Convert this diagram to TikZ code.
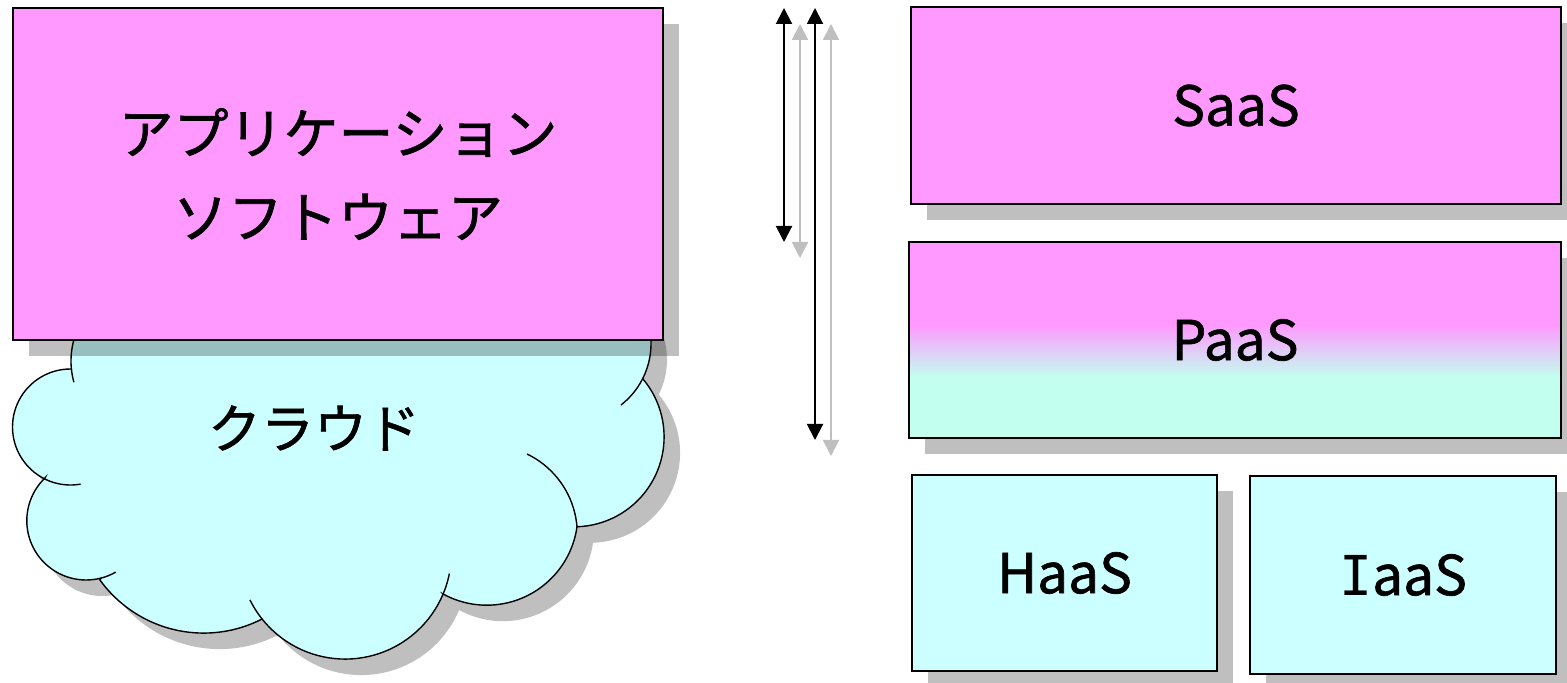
\documentclass[tikz,border=0pt]{standalone}
\usepackage{fontspec}
\setmainfont{Noto Sans CJK JP}[FakeBold=1.2]
\newfontfamily\serifI{DejaVu Sans Mono}
\usetikzlibrary{shadows,arrows.meta}
\definecolor{pinkfill}{HTML}{FF99FF}
\definecolor{cyanfill}{HTML}{CCFFFF}
\definecolor{mintfill}{HTML}{C2FFEE}
\definecolor{shadowgray}{HTML}{BFBFBF}
\pgfdeclareverticalshading{paasshade}{100bp}{color(0bp)=(mintfill); color(40.5bp)=(mintfill); color(54bp)=(pinkfill); color(100bp)=(pinkfill)}
\newcommand\lobe[5]{-- plot[domain=#4:#5,samples=40,variable=\t]({#1+#3*cos(\t)},{#2+#3*sin(\t)})}
\newcommand\innerarc[5]{plot[domain=#4:#5,samples=20,variable=\t]({#1+#3*cos(\t)},{#2+#3*sin(\t)})}
\def\cloudpath{(640.6,304.7) -- (81.6,321.5)
  \lobe{150}{361}{79}{210}{174.2}
  \lobe{70.5}{427}{58}{270}{116.6}
  \lobe{86.1}{520.7}{59.3}{226.1}{75.4}
  \lobe{203.7}{505.2}{127.9}{144.2}{62.9}
  \lobe{345.2}{552.9}{106.2}{141.5}{22.8}
  \lobe{486.8}{514.1}{91.1}{118.7}{8.1}
  \lobe{574.2}{436.9}{89.9}{88.2}{-40.1}
  \lobe{573.2}{343.6}{77.8}{26.2}{-30} -- cycle}
\tikzset{
  boxshadow/.style={drop shadow={shadow xshift=8pt,shadow yshift=-8pt,opacity=0.25,fill=black}},
  box/.style={draw=black,line width=1pt,inner sep=0pt,outer sep=0pt,align=center,
    font=\fontsize{27.5pt}{42pt}\selectfont,boxshadow},
  cloudstyle/.style={fill=cyanfill,draw=black,line width=0.7pt,boxshadow},
  cloudline/.style={draw=black,line width=0.7pt},
  arr/.style={line width=1pt,{Triangle[length=8pt,width=8pt]}-{Triangle[length=8pt,width=8pt]}},
  arrblack/.style={arr,draw=black,fill=black},
  arrshadow/.style={arr,draw=shadowgray,fill=shadowgray}
}
\begin{document}
\begin{tikzpicture}[x=0.5pt,y=-0.5pt]
\useasboundingbox (0,0) rectangle (1567,683);
% cloud
\filldraw[cloudstyle] \cloudpath;
\draw[cloudline] \innerarc{150}{361}{79}{174.2}{164.4};
\draw[cloudline] \innerarc{70.5}{427}{58}{116.6}{80};
\draw[cloudline] \innerarc{86.1}{520.7}{59.3}{75.4}{60};
\draw[cloudline] \innerarc{345.2}{552.9}{106.2}{141.5}{153.7};
\draw[cloudline] \innerarc{345.2}{552.9}{106.2}{22.8}{11.2};
\draw[cloudline] \innerarc{488.5}{534}{88.8}{-4.5}{-64.3};
\draw[cloudline] \innerarc{573.2}{343.6}{77.8}{26.2}{52.1};
\node[font=\fontsize{26.5pt}{30pt}\selectfont] (cloud) at (314,428) {クラウド};
% application box
\node[box,fill=pinkfill,minimum width=325pt,minimum height=166pt] (app) at (338,174) {アプリケーション\\ソフトウェア};
% arrows
\coordinate (s1t) at (800,24); \coordinate (s1b) at (800,258);
\coordinate (s2t) at (831,24); \coordinate (s2b) at (831,456);
\coordinate (a1t) at (784,8); \coordinate (a1b) at (784,242);
\coordinate (a2t) at (815,8); \coordinate (a2b) at (815,440);
\draw[arrshadow] (s1t) -- (s1b);
\draw[arrshadow] (s2t) -- (s2b);
\draw[arrblack] (a1t) -- (a1b);
\draw[arrblack] (a2t) -- (a2b);
% service boxes
\node[box,fill=pinkfill,minimum width=325pt,minimum height=98.5pt] (saas) at (1236,105.5) {SaaS};
\node[box,shading=paasshade,minimum width=326pt,minimum height=98pt] (paas) at (1235,340) {PaaS};
\node[box,fill=cyanfill,minimum width=152.5pt,minimum height=98pt] (haas) at (1064.5,573) {HaaS};
\node[box,fill=cyanfill,minimum width=153pt,minimum height=99pt] (iaas) at (1403,575) {{\serifI I}aaS};
\end{tikzpicture}
\end{document}
